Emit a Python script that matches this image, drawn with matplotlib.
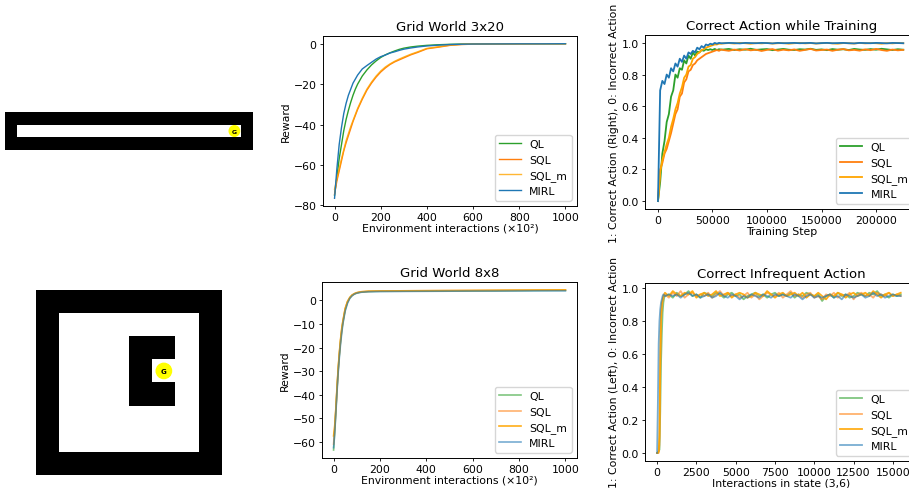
import numpy as np
import matplotlib
matplotlib.use('Agg')
import matplotlib.pyplot as plt
from matplotlib.patches import Circle
from matplotlib.ticker import MultipleLocator

plt.rcParams['font.size'] = 7.8
plt.rcParams['axes.titlesize'] = 9.5
plt.rcParams['axes.titlepad'] = 4
plt.rcParams['axes.labelpad'] = 2
plt.rcParams['axes.linewidth'] = 0.7
for a in ['xtick', 'ytick']:
    plt.rcParams[a + '.major.size'] = 2.5
    plt.rcParams[a + '.major.pad'] = 2.0
    plt.rcParams[a + '.major.width'] = 0.6

labels = ['QL', 'SQL', 'SQL_m', 'MIRL']
colors = ['#2ca02c', '#ff7f0e', 'orange', '#1f77b4']

# grid worlds (1 = wall)
grid_3x20 = ['11111111111111111111',
             '10000000000000000001',
             '11111111111111111111']
goal_3x20 = (1, 18)
grid_8x8 = ['11111111',
            '10000001',
            '10001101',
            '10001001',
            '10001101',
            '10000001',
            '10000001',
            '11111111']
goal_8x8 = (3, 5)

# Grid World 3x20 rewards
x3 = [0, 10, 20, 30, 40, 50, 60, 70, 80, 90, 100, 120, 140, 160, 180, 200, 220, 240, 260, 280, 300,
      330, 360, 400, 450, 500, 550, 600, 700, 800, 900, 1000]
ql3 = [-75, -66, -57, -50, -43, -37.5, -33, -29, -25.5, -22.5, -20, -16, -13, -10.5, -8.5, -6.8, -5.5, -4.5,
       -3.6, -2.8, -2.2, -1.6, -1.2, -0.8, -0.5, -0.3, -0.15, -0.1, -0.05, 0.0, 0.0, 0.0]
sql3 = [-74.5, -68, -63, -58, -53, -49, -45.5, -42, -38.5, -35.5, -32.5, -27.5, -23, -19.5, -16.5, -14, -12,
        -10.3, -9, -8, -7, -5.5, -4.3, -2.5, -1.7, -0.8, -0.4, -0.2, -0.1, -0.05, 0.0, 0.0]
sqlm3 = [-72, -67, -62, -57, -52.5, -48, -44.5, -41, -38, -35, -32, -27, -22.5, -19, -16, -13.5, -11.5, -10,
         -8.7, -7.6, -6.6, -5.2, -4, -2.3, -1.5, -0.7, -0.3, -0.15, -0.1, -0.05, 0.0, 0.0]
mirl3 = [-76.5, -62, -50, -41.5, -34.5, -29.5, -25.5, -22.5, -19.5, -17.5, -15.5, -12.5, -10.8, -9.2, -7.6,
         -6.4, -5.6, -4.6, -4.0, -3.3, -2.7, -2.1, -1.6, -1.1, -0.7, -0.4, -0.25, -0.15, -0.1, -0.05, -0.05, 0.0]

# Grid World 8x8 rewards
x8 = [0, 5, 10, 15, 20, 25, 30, 35, 40, 50, 60, 70, 80, 90, 100, 120, 150, 200, 300, 400, 500, 600, 700,
      800, 900, 1000]
ql8 = [-63.5, -55.5, -46.5, -37.5, -29.5, -23, -17.5, -13, -9.5, -4, -0.8, 1.1, 2.2, 2.8, 3.2, 3.6, 3.8, 3.9,
       3.95, 4.0, 4.05, 4.1, 4.15, 4.2, 4.25, 4.3]
sql8 = [-61, -54.5, -46, -37, -29, -22.5, -17, -12.5, -9, -3.5, -0.5, 1.2, 2.3, 2.9, 3.3, 3.7, 3.9, 4.0, 4.1,
        4.15, 4.2, 4.25, 4.3, 4.35, 4.4, 4.45]
sqlm8 = [-57.5, -53, -45.5, -36.5, -28.5, -22, -16.5, -12, -8.8, -3.4, -0.4, 1.3, 2.3, 2.9, 3.3, 3.7, 3.9, 4.0,
         4.1, 4.15, 4.2, 4.25, 4.3, 4.35, 4.4, 4.45]
mirl8 = [-62.5, -56, -47.5, -38.5, -30.5, -24, -18.5, -14, -10, -4.5, -1.2, 0.9, 2.0, 2.7, 3.1, 3.5, 3.7, 3.8,
         3.85, 3.9, 3.95, 4.0, 4.0, 4.05, 4.1, 4.1]

# correct action while training
x_train = list(range(0, 60000, 2000)) + list(range(60000, 230000, 5000))
ql_tr = [0.0, 0.12, 0.30, 0.38, 0.50, 0.55, 0.66, 0.70, 0.80, 0.78, 0.84, 0.83, 0.89, 0.87, 0.92, 0.90, 0.94,
         0.92, 0.945, 0.94, 0.955, 0.95, 0.96, 0.955, 0.96, 0.955, 0.962, 0.955, 0.96, 0.958,
         0.958, 0.962, 0.955, 0.960, 0.957, 0.963, 0.956, 0.959, 0.961, 0.954, 0.958, 0.962, 0.957, 0.955,
         0.960, 0.958, 0.963, 0.956, 0.959, 0.954, 0.961, 0.957, 0.960, 0.955, 0.962, 0.958, 0.956, 0.961,
         0.957, 0.963, 0.959, 0.955, 0.960, 0.957]
sql_tr = [0.0, 0.20, 0.24, 0.30, 0.33, 0.38, 0.43, 0.49, 0.55, 0.58, 0.66, 0.68, 0.75, 0.77, 0.82, 0.83, 0.86,
          0.87, 0.89, 0.90, 0.91, 0.92, 0.93, 0.935, 0.94, 0.945, 0.95, 0.955, 0.95, 0.958,
          0.955, 0.950, 0.958, 0.952, 0.960, 0.953, 0.957, 0.949, 0.956, 0.961, 0.951, 0.957, 0.953, 0.959,
          0.950, 0.956, 0.962, 0.952, 0.955, 0.958, 0.950, 0.957, 0.961, 0.953, 0.956, 0.951, 0.959, 0.954,
          0.962, 0.955, 0.950, 0.958, 0.953, 0.956]
sqlm_tr = [0.0, 0.18, 0.26, 0.31, 0.36, 0.40, 0.47, 0.52, 0.58, 0.62, 0.68, 0.72, 0.78, 0.80, 0.85, 0.86, 0.90,
           0.91, 0.93, 0.94, 0.955, 0.96, 0.97, 0.975, 0.98, 0.985, 0.99, 0.99, 0.995, 0.995,
           0.997, 0.999, 0.996, 1.0, 0.998, 0.995, 0.999, 0.997, 1.0, 0.996, 0.998, 0.999, 0.995, 0.998, 1.0,
           0.997, 0.999, 0.996, 0.998, 1.0, 0.997, 0.995, 0.999, 0.998, 0.996, 1.0, 0.997, 0.999, 0.998, 0.995,
           0.999, 0.997, 1.0, 0.998]
mirl_tr = [0.0, 0.70, 0.76, 0.74, 0.80, 0.78, 0.84, 0.82, 0.87, 0.85, 0.90, 0.88, 0.92, 0.90, 0.94, 0.93, 0.95,
           0.94, 0.97, 0.96, 0.98, 0.97, 0.99, 0.985, 0.995, 0.99, 1.0, 0.995, 1.0, 0.998,
           0.998, 1.0, 0.999, 0.997, 1.0, 0.999, 0.998, 1.0, 0.999, 0.997, 1.0, 0.998, 0.999, 1.0, 0.998,
           0.999, 1.0, 0.997, 0.999, 1.0, 0.998, 0.999, 1.0, 0.998, 0.997, 1.0, 0.999, 0.998, 1.0, 0.999,
           0.997, 1.0, 0.999, 0.998]

# correct infrequent action
x_inf = list(range(0, 500, 50)) + list(range(500, 15750, 250))
ql_inf = [0.0, 0.0, 0.01, 0.02, 0.25, 0.55, 0.72, 0.85, 0.91, 0.94,
          0.95, 0.96, 0.94, 0.97, 0.95, 0.96, 0.98, 0.95, 0.96, 0.94,
          0.97, 0.96, 0.95, 0.97, 0.96, 0.94, 0.96, 0.97, 0.95, 0.96,
          0.93, 0.95, 0.96, 0.97, 0.95, 0.96, 0.94, 0.96, 0.97, 0.95,
          0.96, 0.95, 0.97, 0.94, 0.96, 0.95, 0.97, 0.96, 0.95, 0.96,
          0.92, 0.95, 0.96, 0.94, 0.97, 0.95, 0.96, 0.94, 0.95, 0.97,
          0.96, 0.95, 0.97, 0.96, 0.98, 0.95, 0.96, 0.94, 0.96, 0.95,
          0.96]
sql_inf = [0.0, 0.0, 0.0, 0.05, 0.50, 0.80, 0.88, 0.92, 0.94, 0.95,
           0.96, 0.94, 0.97, 0.95, 0.98, 0.94, 0.96, 0.97, 0.95, 0.96,
           0.95, 0.97, 0.94, 0.96, 0.98, 0.95, 0.97, 0.95, 0.96, 0.94,
           0.95, 0.97, 0.94, 0.96, 0.93, 0.95, 0.97, 0.96, 0.95, 0.97,
           0.94, 0.96, 0.98, 0.95, 0.96, 0.94, 0.96, 0.97, 0.94, 0.95,
           0.93, 0.96, 0.95, 0.97, 0.94, 0.96, 0.95, 0.97, 0.93, 0.96,
           0.97, 0.95, 0.96, 0.94, 0.97, 0.96, 0.95, 0.97, 0.95, 0.96,
           0.95]
sqlm_inf = [0.0, 0.0, 0.01, 0.10, 0.60, 0.84, 0.90, 0.93, 0.95, 0.96,
            0.97, 0.95, 0.98, 0.96, 0.95, 0.97, 0.96, 0.98, 0.94, 0.96,
            0.97, 0.95, 0.96, 0.98, 0.95, 0.96, 0.97, 0.94, 0.96, 0.97,
            0.96, 0.94, 0.95, 0.97, 0.96, 0.95, 0.98, 0.96, 0.94, 0.96,
            0.97, 0.95, 0.96, 0.97, 0.95, 0.97, 0.94, 0.96, 0.95, 0.97,
            0.95, 0.93, 0.96, 0.95, 0.97, 0.96, 0.94, 0.96, 0.97, 0.95,
            0.96, 0.97, 0.95, 0.98, 0.96, 0.94, 0.96, 0.97, 0.95, 0.96,
            0.97]
mirl_inf = [0.0, 0.30, 0.66, 0.80, 0.87, 0.91, 0.93, 0.95, 0.96, 0.955,
            0.95, 0.96, 0.95, 0.96, 0.94, 0.96, 0.97, 0.95, 0.96, 0.94,
            0.95, 0.96, 0.94, 0.95, 0.97, 0.95, 0.94, 0.96, 0.95, 0.93,
            0.95, 0.94, 0.96, 0.95, 0.94, 0.96, 0.95, 0.94, 0.96, 0.95,
            0.96, 0.95, 0.94, 0.96, 0.95, 0.93, 0.95, 0.96, 0.94, 0.95,
            0.94, 0.95, 0.96, 0.94, 0.95, 0.93, 0.96, 0.95, 0.94, 0.95,
            0.96, 0.94, 0.95, 0.97, 0.95, 0.96, 0.94, 0.95, 0.96, 0.95,
            0.95]

W, H = 909, 489
fig = plt.figure(figsize=(W / 100, H / 100), dpi=100)


def px_axes(left, top, right, bottom):
    return fig.add_axes([left / W, 1 - bottom / H, (right - left) / W, (bottom - top) / H])


def draw_grid(ax, grid, goal, r, fs):
    arr = np.array([[int(c) for c in row] for row in grid])
    ax.imshow(1 - arr, cmap='gray', vmin=0, vmax=1, aspect='auto', interpolation='nearest')
    ax.add_patch(Circle((goal[1], goal[0]), r, color='yellow', zorder=3))
    ax.text(goal[1], goal[0], 'G', ha='center', va='center', fontsize=fs, fontweight='bold', zorder=4)
    ax.axis('off')


ax = px_axes(5, 113, 253, 151)
draw_grid(ax, grid_3x20, goal_3x20, 0.42, 4.5)
ax = px_axes(36, 291, 222, 476)
draw_grid(ax, grid_8x8, goal_8x8, 0.33, 5)

env_label = 'Environment interactions (×10²)'

# rewards
ax = px_axes(323, 37, 577, 207)
for ys, lab, c in zip([ql3, sql3, sqlm3, mirl3], labels, colors):
    ax.plot(x3, ys, color=c, lw=1.0, label=lab, alpha=0.8 if lab == 'SQL_m' else 1.0)
ax.set_title('Grid World 3x20')
ax.set_ylabel('Reward')
ax.set_xlabel(env_label, labelpad=0.5)
ax.legend(loc='lower right')

ax = px_axes(322, 283, 577, 459)
for ys, lab, c in zip([ql8, sql8, sqlm8, mirl8], labels, colors):
    ax.plot(x8, ys, color=c, lw=1.2, label=lab, alpha=0.9 if lab == 'SQL_m' else 0.6)
ax.set_title('Grid World 8x8')
ax.set_ylabel('Reward')
ax.set_xlabel(env_label, labelpad=0.5)
ax.legend(loc='lower right')

# correct actions
ax = px_axes(645, 36, 918, 210)
for ys, lab, c in zip([ql_tr, sql_tr, sqlm_tr, mirl_tr], labels, colors):
    ax.plot(x_train, ys, color=c, lw=1.3, label=lab)
ax.set_xlim(-11900, 238500)
ax.set_title('Correct Action while Training')
ax.set_ylabel('1: Correct Action (Right), 0: Incorrect Action')
ax.set_xlabel('Training Step', labelpad=0.5)
ax.legend(loc='lower right')

ax = px_axes(645, 284, 918, 462)
for ys, lab, c in zip([ql_inf, sql_inf, sqlm_inf, mirl_inf], labels, colors):
    ax.plot(x_inf, ys, color=c, lw=1.3, label=lab, alpha=0.9 if lab == 'SQL_m' else 0.6)
ax.set_xlim(-770, 16600)
ax.xaxis.set_major_locator(MultipleLocator(2500))
ax.set_title('Correct Infrequent Action')
ax.set_ylabel('1: Correct Action (Left), 0: Incorrect Action')
ax.set_xlabel('Interactions in state (3,6)', labelpad=0.5)
ax.legend(loc='lower right')

fig.savefig('out.png', dpi=100)
